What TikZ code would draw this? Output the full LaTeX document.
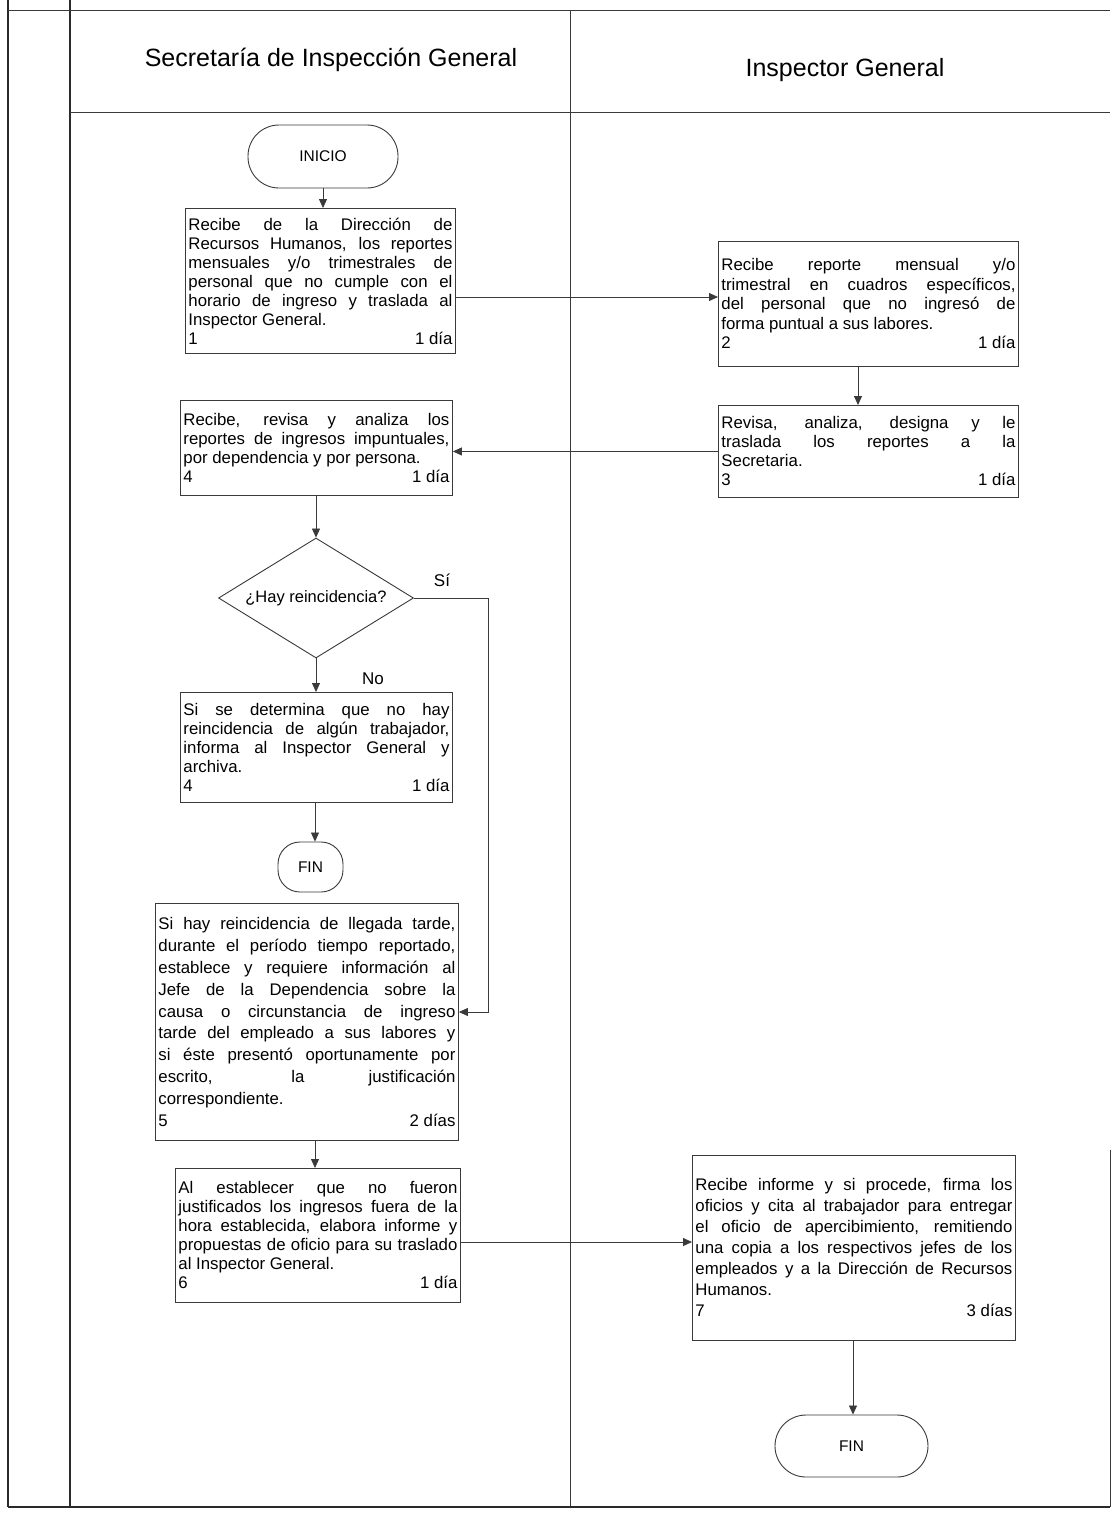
\documentclass[tikz,border=0pt]{standalone}
\usepackage{fontspec}
\setmainfont{Liberation Sans}
\usetikzlibrary{arrows.meta,shapes.geometric}
\definecolor{linec}{HTML}{3A3A3A}
\definecolor{framec}{HTML}{2A2A2A}
\newcommand\lastrow[2]{\par\noindent#1\hfill#2}
\begin{document}
\begin{tikzpicture}[x=1pt,y=-1pt,
  frameline/.style={draw=framec, line width=1.4pt},
  laneline/.style={draw=linec, line width=0.8pt},
  proc/.style={draw=linec, line width=0.9pt, rectangle, anchor=north west,
    inner xsep=3pt, inner ysep=2pt, align=justify, font=\fontsize{16.8}{19}\selectfont},
  terminal/.style={draw=linec, line width=0.9pt, rectangle, inner sep=0pt,
    font=\fontsize{15.5}{18}\selectfont},
  decision/.style={draw=linec, line width=0.9pt, diamond, inner sep=0pt},
  dtext/.style={font=\fontsize{16.5}{19}\selectfont, inner sep=0pt},
  title/.style={font=\fontsize{25}{30}\selectfont},
  lbl/.style={font=\fontsize{17}{19}\selectfont, inner sep=0pt},
  arr/.style={draw=linec, line width=0.8pt, -{Triangle[length=9pt,width=8pt]}},
]
\useasboundingbox (0,0) rectangle (1112,1513);
\fill[white] (0,0) rectangle (1112,1513);

% frame
\coordinate (tl) at (8,10);
\coordinate (tr) at (1110,10);
\coordinate (bl) at (8,1507);
\coordinate (br) at (1110,1507);
\draw[frameline, line width=1.8pt] (8,0) -- (bl);
\draw[frameline] (70,0) -- (70,1507);
\draw[laneline] (tl) -- (tr);
\draw[laneline] (70,112) -- (1110,112);
\draw[laneline] (570,10) -- (570,1507);
\draw[frameline] (bl) -- (br);
\draw[laneline] (1110,1150) -- (br);

% titles
\node[title] (t1) at (331,60) {Secretaría de Inspección General};
\node[title] (t2) at (845,70) {Inspector General};

% terminals
\node[terminal, minimum width=150pt, minimum height=63pt, rounded corners=31pt] (ini) at (323,156.5) {INICIO};
\node[terminal, minimum width=65pt, minimum height=50pt, rounded corners=22pt] (fin1) at (310.5,867) {FIN};
\node[terminal, minimum width=153pt, minimum height=62pt, rounded corners=31pt] (fin2) at (851.5,1446) {FIN};

% process boxes
\node[proc, text width=264pt, minimum height=145pt] (b1) at (185,208)
 {Recibe de la Dirección de\linebreak Recursos Humanos, los reportes\linebreak mensuales y/o trimestrales de\linebreak personal que no cumple con el\linebreak horario de ingreso y traslada al\linebreak Inspector General.\lastrow{1}{1 día}};

\node[proc, text width=294pt, minimum height=125pt, font=\fontsize{16.8}{19.5}\selectfont] (b2) at (718,241)
 {Recibe reporte mensual y/o\linebreak trimestral en cuadros específicos,\linebreak del personal que no ingresó de\linebreak forma puntual a sus labores.\lastrow{2}{1 día}};

\node[proc, text width=294pt, minimum height=92pt] (b3) at (718,405)
 {Revisa, analiza, designa y le\linebreak traslada los reportes a la\linebreak Secretaria.\lastrow{3}{1 día}};

\node[proc, text width=266pt, minimum height=95pt] (b4) at (180,400)
 {Recibe, revisa y analiza los\linebreak reportes de ingresos impuntuales,\linebreak por dependencia y por persona.\lastrow{4}{1 día}};

\node[decision, minimum width=195pt, minimum height=120pt] (dia) at (316,598) {};
\node[dtext] (diat) at (dia.center) {¿Hay reincidencia?};

\node[proc, text width=266pt, minimum height=110pt] (b4b) at (180,692)
 {Si se determina que no hay\linebreak reincidencia de algún trabajador,\linebreak informa al Inspector General y\linebreak archiva.\lastrow{4}{1 día}};

\node[proc, text width=297pt, minimum height=237pt, font=\fontsize{16.8}{21.8}\selectfont] (b5) at (155,903)
 {Si hay reincidencia de llegada tarde,\linebreak durante el período tiempo reportado,\linebreak establece y requiere información al\linebreak Jefe de la Dependencia sobre la\linebreak causa o circunstancia de ingreso\linebreak tarde del empleado a sus labores y\linebreak si éste presentó oportunamente por\linebreak escrito, la justificación\linebreak correspondiente.\lastrow{5}{2 días}};

\node[proc, text width=279pt, minimum height=134pt] (b6) at (175,1168)
 {Al establecer que no fueron\linebreak justificados los ingresos fuera de la\linebreak hora establecida, elabora informe y\linebreak propuestas de oficio para su traslado\linebreak al Inspector General.\lastrow{6}{1 día}};

\node[proc, text width=317pt, minimum height=185pt, font=\fontsize{16.8}{21}\selectfont] (b7) at (692,1155)
 {Recibe informe y si procede, firma los\linebreak oficios y cita al trabajador para entregar\linebreak el oficio de apercibimiento, remitiendo\linebreak una copia a los respectivos jefes de los\linebreak empleados y a la Dirección de Recursos\linebreak Humanos.\lastrow{7}{3 días}};

% labels
\node[lbl] (si) at (442,580) {Sí};
\node[lbl] (no) at (373,679) {No};

% connector helpers
\coordinate (h12) at (0,297);
\coordinate (v23) at (858,0);
\coordinate (sic) at (488,1012);
\coordinate (v56) at (315,0);
\coordinate (h67) at (0,1242);
\coordinate (v7) at (853,0);

% connectors
\draw[arr] (ini.south) -- (ini.south |- b1.north);
\draw[arr] (b1.east |- h12) -- (b2.west |- h12);
\draw[arr] (b2.south -| v23) -- (b3.north -| v23);
\draw[arr] (b3.west) -- (b4.east |- b3.west);
\draw[arr] (b4.south -| dia.north) -- (dia.north);
\draw[arr] (dia.south) -- (dia.south |- b4b.north);
\draw[arr] (b4b.south -| v56) -- (fin1.north -| v56);
\draw[arr] (dia.east) -| (sic) -- (sic -| b5.east);
\draw[arr] (b5.south -| v56) -- (b6.north -| v56);
\draw[arr] (b6.east |- h67) -- (b7.west |- h67);
\draw[arr] (b7.south -| v7) -- (fin2.north -| v7);
\end{tikzpicture}
\end{document}
